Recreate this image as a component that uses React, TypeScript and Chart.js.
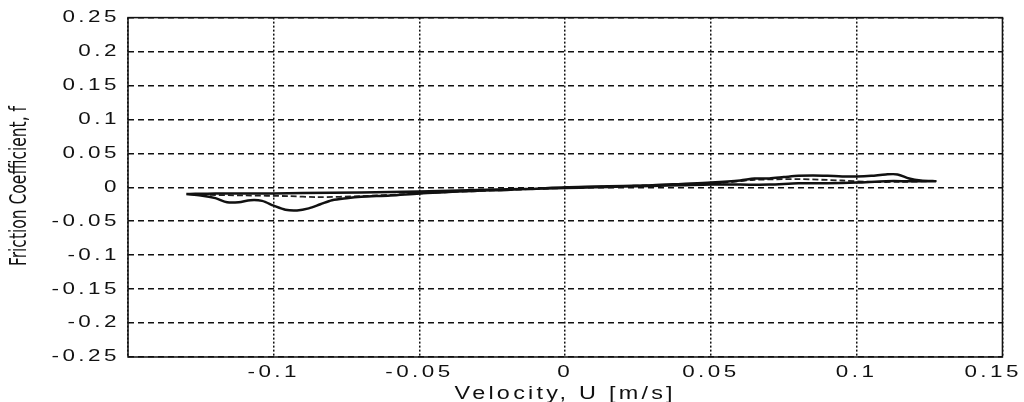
import { useEffect, useRef } from "react";
import { Chart, registerables } from "chart.js";

Chart.register(...registerables);

// ---- data ----
const xTickLabels = ["", "-0.1", "-0.05", "0", "0.05", "0.1", "0.15"];
const yTickLabels = ["-0.25", "-0.2", "-0.15", "-0.1", "-0.05", "0", "0.05", "0.1", "0.15", "0.2", "0.25"];
const xTitle = "Velocity, U [m/s]";
const yTitle = "Friction Coefficient, f";

// solid hysteresis loop (velocity U, friction f)
const solidU = [
  -0.13, -0.125, -0.12, -0.116, -0.112, -0.108, -0.104, -0.1, -0.096, -0.092, -0.088, -0.084, -0.08, -0.075,
  -0.07, -0.06, -0.05, -0.04, -0.03, -0.02, -0.01, 0, 0.01, 0.02, 0.03, 0.04, 0.05, 0.06, 0.065, 0.07, 0.075,
  0.08, 0.085, 0.09, 0.095, 0.1, 0.105, 0.11, 0.114, 0.118, 0.122, 0.127,
  0.118, 0.11, 0.1, 0.09, 0.08, 0.07, 0.06, 0.05, 0.04, 0.03, 0.02, 0.01, 0, -0.02, -0.04, -0.06, -0.08,
  -0.1, -0.12, -0.13,
];
const solidF = [
  -0.01, -0.012, -0.016, -0.022, -0.022, -0.019, -0.02, -0.027, -0.033, -0.034, -0.031, -0.025, -0.019, -0.016,
  -0.014, -0.012, -0.009, -0.007, -0.005, -0.004, -0.002, 0, 0.001, 0.002, 0.003, 0.005, 0.007, 0.01, 0.013,
  0.013, 0.015, 0.017, 0.0175, 0.017, 0.016, 0.016, 0.017, 0.019, 0.019, 0.013, 0.01, 0.009,
  0.009, 0.009, 0.007, 0.006, 0.006, 0.004, 0.004, 0.004, 0.003, 0.002, 0.001, 0, -0.001, -0.003, -0.005,
  -0.007, -0.008, -0.009, -0.009, -0.01,
];

// dashed trace
const dashedU = [
  -0.125, -0.11, -0.095, -0.085, -0.07, -0.055, -0.04, -0.02, 0, 0.02, 0.04, 0.055, 0.065, 0.08, 0.095, 0.105,
  0.115, 0.125,
];
const dashedF = [
  -0.011, -0.012, -0.013, -0.0145, -0.013, -0.01, -0.007, -0.004, -0.001, 0.002, 0.004, 0.007, 0.011, 0.012,
  0.01, 0.008, 0.008, 0.009,
];

const toPoints = (xs: number[], ys: number[]) => xs.map((x, i) => ({ x, y: ys[i] }));

const TICK_SIZE = 16;
const TITLE_SIZE = 18;
const TICK_STRETCH = 1.4;
const TITLE_STRETCH = 1.3;
const CANVAS_W = 1024;

// wide (horizontally stretched) lettering like the scanned original
function installStretchedText(ctx: CanvasRenderingContext2D) {
  const orig = ctx.fillText.bind(ctx);
  (ctx as any).fillText = function (text: string, x: number, y: number, maxWidth?: number) {
    const m = /(\d+(?:\.\d+)?)px/.exec(ctx.font);
    const size = m ? parseFloat(m[1]) : 0;
    const sx = size === TICK_SIZE ? TICK_STRETCH : size === TITLE_SIZE ? TITLE_STRETCH : 1;
    if (sx === 1) return orig(text, x, y, maxWidth);
    const w = ctx.measureText(text).width * sx;
    const align = ctx.textAlign;
    const t = ctx.getTransform();
    const devX = t.a * x + t.c * y + t.e;
    let rightEdge = devX + w;
    if (align === "center") rightEdge = devX + w / 2;
    else if (align === "right" || align === "end") rightEdge = devX;
    const shift = Math.min(0, CANVAS_W - 2 - rightEdge);
    ctx.save();
    ctx.translate(x + shift, y);
    ctx.scale(sx, 1);
    orig(text, 0, 0);
    ctx.restore();
  };
}

const framePlugin = {
  id: "frameAndTitle",
  beforeDraw(chart: any) {
    (chart.ctx as any).letterSpacing = "2.5px";
  },
  afterDraw(chart: any) {
    const ctx = chart.ctx as CanvasRenderingContext2D;
    const { left, top, right, bottom } = chart.chartArea;
    ctx.save();
    ctx.setLineDash([]);
    ctx.strokeStyle = "#111";
    ctx.lineWidth = 1.5;
    ctx.strokeRect(left, top, right - left, bottom - top);
    ctx.restore();

    ctx.save();
    (ctx as any).letterSpacing = "0px";
    ctx.font = '23px "Liberation Sans Narrow", "DejaVu Sans Condensed", sans-serif';
    const w = ctx.measureText(yTitle).width;
    ctx.translate(20, 186);
    ctx.rotate(-Math.PI / 2);
    ctx.scale(160 / w, 1);
    ctx.textAlign = "center";
    ctx.textBaseline = "middle";
    ctx.fillStyle = "#111";
    ctx.fillText(yTitle, 0, 0);
    ctx.restore();
  },
};

export default function App() {
  const ref = useRef<HTMLCanvasElement | null>(null);

  useEffect(() => {
    const canvas = ref.current;
    if (!canvas) return;
    const ctx2d = canvas.getContext("2d");
    if (ctx2d) installStretchedText(ctx2d);
    const tickFont = { family: '"Liberation Sans", Arial, sans-serif', size: TICK_SIZE };
    const chart = new Chart(canvas, {
      type: "scatter",
      data: {
        datasets: [
          {
            data: toPoints(solidU, solidF),
            showLine: true,
            borderColor: "#111",
            borderWidth: 2.5,
            pointRadius: 0,
            tension: 0.3,
            fill: false,
          },
          {
            data: toPoints(dashedU, dashedF),
            showLine: true,
            borderColor: "#222",
            borderWidth: 1.8,
            borderDash: [6, 3],
            pointRadius: 0,
            tension: 0.3,
            fill: false,
          },
        ],
      },
      options: {
        animation: false,
        responsive: false,
        layout: { padding: { top: 17, right: 21, left: 0, bottom: 0 } },
        plugins: { legend: { display: false }, tooltip: { enabled: false } },
        scales: {
          x: {
            type: "linear",
            min: -0.15,
            max: 0.15,
            afterFit: (s: any) => {
              s.height = 45;
            },
            ticks: {
              stepSize: 0.05,
              color: "#111",
              font: tickFont,
              padding: 6,
              maxRotation: 0,
              autoSkip: false,
              callback: (_v: any, i: number) => xTickLabels[i] ?? "",
            },
            grid: { color: "#111", lineWidth: 1.5, drawTicks: false },
            border: { display: false, dash: [2, 2] },
            title: {
              display: true,
              text: xTitle,
              color: "#111",
              font: { family: '"Liberation Sans", Arial, sans-serif', size: TITLE_SIZE },
              padding: { top: 0, bottom: -3 },
            },
          },
          y: {
            type: "linear",
            min: -0.25,
            max: 0.25,
            afterFit: (s: any) => {
              s.width = 128;
            },
            ticks: {
              stepSize: 0.05,
              color: "#111",
              font: tickFont,
              padding: 8,
              autoSkip: false,
              callback: (_v: any, i: number) => yTickLabels[i] ?? "",
            },
            grid: { color: "#111", lineWidth: 1.5, drawTicks: false },
            border: { display: false, dash: [6, 4] },
          },
        },
      },
      plugins: [framePlugin],
    });
    return () => chart.destroy();
  }, []);

  return (
    <div style={{ position: "fixed", left: 0, top: 0, width: 1024, height: 402, background: "#fff" }}>
      <canvas ref={ref} width={1024} height={402} />
    </div>
  );
}
